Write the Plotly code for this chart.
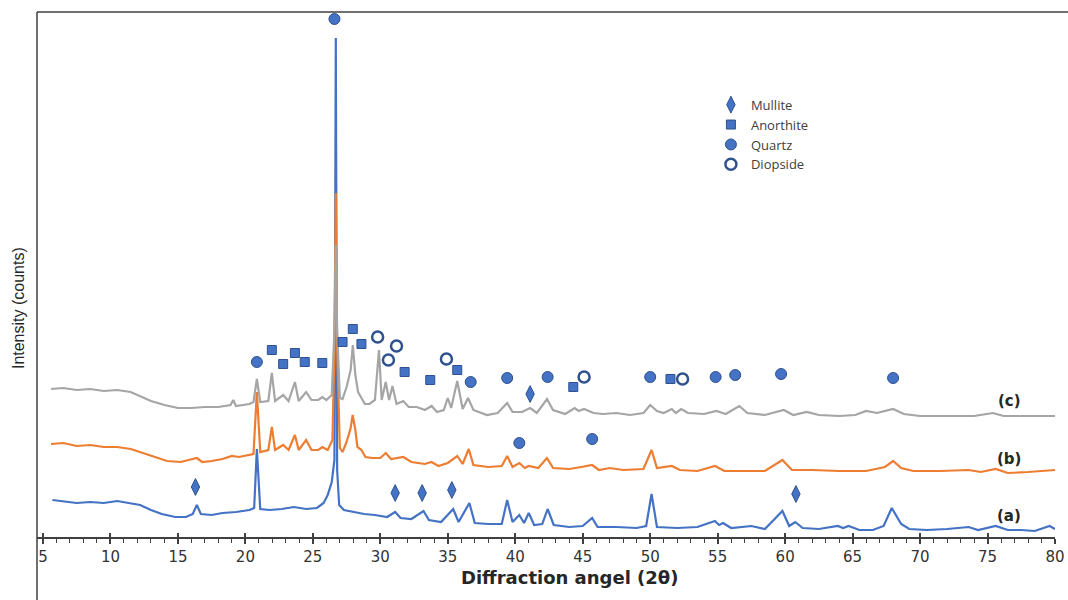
import plotly.graph_objects as go

# ---- Data (2θ in degrees, intensity in arbitrary counts, patterns offset as in the figure) ----
a_x = [5.7, 6.5, 7.5, 8.5, 9.5, 10.5, 11.5, 12.2, 13.0, 13.8, 14.8, 15.6, 16.1, 16.4, 16.7, 17.5, 18.3, 19.3,
       20.3, 20.65, 20.85, 21.1, 21.8, 22.7, 23.6, 24.5, 25.3, 25.8, 26.1, 26.4, 26.6, 26.7, 26.8, 26.95, 27.3,
       28.0, 28.8, 29.6, 30.5, 31.1, 31.5, 32.3, 33.2, 33.6, 34.5, 35.4, 35.8, 36.6, 37.0, 38.0, 39.0, 39.4,
       39.8, 40.3, 40.65, 41.0, 41.4, 42.0, 42.4, 42.85, 44.0, 45.0, 45.7, 46.1, 47.5, 49.0, 49.7, 50.1, 50.5,
       52.0, 53.5, 54.8, 55.1, 55.4, 56.0, 57.5, 58.5, 59.8, 60.3, 60.75, 61.3, 62.5, 63.9, 64.3, 64.7, 65.5,
       66.5, 67.3, 67.9, 68.6, 69.2, 70.5, 72.0, 73.6, 74.3, 75.6, 76.5, 77.5, 78.5, 79.6, 80.0]
a_y = [37, 36, 34, 35, 34, 36, 34, 32, 27, 23, 20, 20, 23, 32, 23, 22, 24, 25,
       27, 29, 88, 28, 27, 28, 30, 28, 29, 34, 42, 55, 77, 499, 67, 32, 27,
       25, 23, 22, 20, 25, 19, 18, 26, 17, 15, 28, 15, 34, 14, 13, 13, 37,
       15, 22, 14, 24, 12, 13, 28, 12, 10, 11, 19, 10, 10, 9, 11, 43, 10,
       9, 10, 16, 12, 14, 9, 11, 8, 26, 11, 15, 9, 8, 11, 9, 11, 7,
       7, 11, 29, 13, 8, 7, 8, 10, 7, 11, 7, 7, 6, 11, 8]

b_x = [5.6, 6.5, 7.5, 8.5, 9.5, 10.5, 11.5, 12.2, 13.2, 14.2, 15.2, 16.4, 16.8, 17.5, 18.3, 19.0, 19.5, 20.6,
       20.85, 21.1, 21.7, 21.96, 22.2, 22.8, 23.2, 23.67, 23.95, 24.5, 24.9, 25.4, 25.7, 26.1, 26.45, 26.6,
       26.7, 26.8, 27.0, 27.2, 27.5, 27.8, 27.95, 28.15, 28.3, 28.6, 28.9, 29.4, 30.0, 30.4, 30.8, 31.7, 32.3,
       33.3, 33.8, 34.3, 35.0, 35.7, 36.1, 36.55, 36.9, 38.0, 39.0, 39.4, 39.8, 40.3, 40.7, 41.0, 41.7, 42.35,
       42.8, 44.0, 44.9, 45.7, 46.2, 47.0, 48.0, 49.5, 50.1, 50.5, 51.6, 52.2, 53.5, 54.8, 55.5, 57.0, 58.5,
       59.8, 60.5, 62.0, 64.0, 66.0, 67.4, 68.0, 68.6, 69.5, 71.5, 73.6, 74.5, 75.6, 76.5, 78.0, 79.5, 80.0]
b_y = [93, 94, 91, 92, 90, 90, 88, 85, 80, 76, 75, 79, 75, 76, 78, 81, 80, 83,
       145, 85, 87, 110, 87, 92, 87, 102, 87, 97, 87, 87, 90, 87, 97, 187,
       344, 187, 89, 85, 95, 109, 122, 107, 90, 87, 80, 79, 79, 84, 78, 80, 75,
       73, 75, 71, 74, 81, 73, 88, 72, 70, 71, 81, 70, 74, 69, 71, 69, 79,
       69, 68, 70, 72, 67, 69, 67, 68, 87, 69, 71, 67, 66, 71, 66, 66, 66,
       77, 67, 67, 66, 66, 70, 76, 69, 66, 66, 67, 65, 68, 64, 65, 66, 67]

c_x = [5.6, 6.5, 7.5, 8.5, 9.5, 10.5, 11.5, 12.2, 13.0, 14.0, 15.0, 16.0, 17.0, 18.0, 18.9, 19.1, 19.3, 20.3,
       20.6, 20.85, 21.1, 21.7, 21.96, 22.2, 22.8, 23.2, 23.67, 23.95, 24.5, 24.9, 25.4, 25.7, 26.0, 26.4,
       26.6, 26.7, 26.8, 27.0, 27.2, 27.5, 27.8, 27.96, 28.15, 28.35, 28.6, 28.85, 29.2, 29.6, 29.9, 30.1,
       30.4, 30.65, 30.9, 31.2, 31.7, 32.1, 32.7, 33.3, 33.8, 34.2, 34.7, 35.0, 35.25, 35.7, 36.1, 36.5, 36.9,
       37.9, 38.7, 39.4, 39.8, 40.5, 41.1, 41.6, 42.35, 42.8, 43.7, 44.4, 44.7, 45.1, 45.8, 46.5, 47.5, 48.5,
       49.5, 50.0, 50.5, 51.0, 51.6, 51.9, 52.3, 52.8, 54.0, 54.9, 55.6, 56.6, 57.2, 58.5, 59.9, 60.6, 61.6,
       62.5, 64.0, 65.2, 66.0, 66.8, 68.0, 68.8, 70.0, 72.0, 74.0, 75.4, 76.2, 78.0, 80.0]
c_y = [148, 149, 147, 148, 146, 147, 145, 141, 136, 132, 129, 129, 130, 130, 132, 137, 131, 133,
       135, 158, 135, 136, 164, 136, 142, 136, 155, 136, 145, 137, 137, 140, 137, 142,
       207, 292, 207, 139, 138, 150, 167, 192, 162, 145, 139, 133, 133, 137, 187, 137,
       155, 137, 151, 133, 136, 130, 130, 127, 131, 125, 127, 139, 129, 156, 128, 139, 127,
       122, 124, 134, 125, 125, 129, 124, 138, 127, 123, 129, 126, 128, 124, 123, 124, 122,
       124, 132, 126, 124, 128, 124, 128, 124, 123, 126, 123, 131, 124, 122, 127, 122, 125,
       122, 121, 122, 126, 124, 128, 123, 121, 121, 121, 124, 121, 121, 121]

# Phase identification markers (peak position, marker height)
mullite_x = [16.3, 31.1, 33.1, 35.3, 41.1, 60.8]
mullite_y = [50, 44, 44, 47, 143, 43]
anorthite_x = [21.96, 22.8, 23.67, 24.4, 25.7, 27.2, 27.96, 28.6, 31.8, 33.7, 35.7, 44.3, 51.5]
anorthite_y = [187, 173, 184, 175, 174, 195, 208, 193, 165, 157, 167, 150, 158]
quartz_x = [20.85, 26.6, 36.7, 39.4, 42.4, 50.0, 54.85, 56.3, 59.7, 68.0, 40.3, 45.7]
quartz_y = [175, 518, 155, 159, 160, 160, 160, 162, 163, 159, 94, 98]
diopside_x = [29.8, 31.2, 30.6, 34.9, 45.1, 52.4]
diopside_y = [200, 191, 177, 178, 160, 158]

sample_labels = ["(a)", "(b)", "(c)"]
label_x = [76.6, 76.6, 76.6]
label_y = [21, 78, 136]

x_ticks = [5, 10, 15, 20, 25, 30, 35, 40, 45, 50, 55, 60, 65, 70, 75, 80]
x_tick_labels = ["5", "10", "15", "20", "25", "30", "35", "40", "45", "50", "55", "60", "65",
                 "70", "75", "80"]

BLUE = "#4472C4"
ORANGE = "#ED7D31"
GRAY = "#A5A5A5"
DARK = "#2F528F"
AXIS = "#404040"

fig = go.Figure()
for xs, ys, col in [(a_x, a_y, BLUE), (b_x, b_y, ORANGE), (c_x, c_y, GRAY)]:
    fig.add_trace(go.Scatter(x=xs, y=ys, mode="lines", line=dict(color=col, width=2.2),
                             showlegend=False, hoverinfo="skip"))

fig.add_trace(go.Scatter(x=mullite_x, y=mullite_y, mode="markers", name="Mullite",
                         marker=dict(symbol="diamond-tall", size=12, color=BLUE,
                                     line=dict(color=DARK, width=1)), cliponaxis=False))
fig.add_trace(go.Scatter(x=anorthite_x, y=anorthite_y, mode="markers", name="Anorthite",
                         marker=dict(symbol="square", size=9, color=BLUE,
                                     line=dict(color=DARK, width=1)), cliponaxis=False))
fig.add_trace(go.Scatter(x=quartz_x, y=quartz_y, mode="markers", name="Quartz",
                         marker=dict(symbol="circle", size=11, color=BLUE,
                                     line=dict(color=DARK, width=1)), cliponaxis=False))
fig.add_trace(go.Scatter(x=diopside_x, y=diopside_y, mode="markers", name="Diopside",
                         marker=dict(symbol="circle-open", size=11, color=DARK,
                                     line=dict(color=DARK, width=2.5)), cliponaxis=False))

# invisible trace on overlay axis so that the crossing major ticks render
fig.add_trace(go.Scatter(x=[x_ticks[0]], y=[0], xaxis="x2", mode="markers",
                         marker=dict(opacity=0), showlegend=False, hoverinfo="skip"))

for t, xx, yy in zip(sample_labels, label_x, label_y):
    fig.add_annotation(x=xx, y=yy, text="<b>" + t + "</b>", showarrow=False,
                       xanchor="center", yanchor="middle",
                       font=dict(family="DejaVu Sans", size=15, color="#262626"))

fig.add_annotation(xref="paper", yref="paper", x=-0.0187, y=0.436, text="Intensity (counts)",
                   textangle=-90, showarrow=False, xanchor="center", yanchor="middle",
                   font=dict(family="Liberation Sans, Arial", size=16, color="#262626"))
fig.add_annotation(xref="paper", yref="paper", x=0.523, y=-0.078, text="<b>Diffraction angel (2θ)</b>",
                   showarrow=False, xanchor="center", yanchor="middle",
                   font=dict(family="DejaVu Sans", size=18, color="#262626"))

# frame lines
fig.add_shape(type="line", xref="paper", yref="paper", x0=0, x1=1.0128, y0=1, y1=1,
              line=dict(color=AXIS, width=1.5))
fig.add_shape(type="line", xref="paper", yref="paper", x0=0, x1=0, y0=-0.12, y1=1,
              line=dict(color=AXIS, width=1.5))

XR = [4.556, 80]
fig.update_layout(
    width=1068, height=600,
    margin=dict(l=37, r=13, t=12, b=63, autoexpand=False),
    paper_bgcolor="white", plot_bgcolor="white",
    xaxis=dict(range=XR, tickvals=x_ticks, ticktext=x_tick_labels, ticks="outside", ticklen=5,
               tickwidth=1.5, ticklabeloverflow="allow", automargin=False,
               tickcolor=AXIS, showline=True, linecolor=AXIS, linewidth=1.5, showgrid=False,
               zeroline=False,
               minor=dict(dtick=1, tick0=5, ticks="outside", ticklen=4, tickwidth=1.2, tickcolor=AXIS,
                          showgrid=False),
               tickfont=dict(family="DejaVu Sans", size=15, color="#333333")),
    xaxis2=dict(range=XR, overlaying="x", anchor="y", side="bottom", tickvals=x_ticks,
                ticks="inside", ticklen=4, tickwidth=1.5, tickcolor=AXIS, showticklabels=False,
                showline=False, showgrid=False, zeroline=False, automargin=False),
    yaxis=dict(range=[0, 525], showticklabels=False, ticks="", showgrid=False, zeroline=False,
               showline=False, automargin=False),
    legend=dict(x=0.662, y=0.852, xanchor="left", yanchor="top", bgcolor="rgba(0,0,0,0)",
                font=dict(family="Open Sans", size=13, color="#404040"), itemwidth=30,
                tracegroupgap=0),
    showlegend=True,
)

fig.write_html("out.html",
               config=dict(displayModeBar=False, responsive=False),
               post_script="document.body.style.margin='0';document.body.style.overflow='hidden';")
